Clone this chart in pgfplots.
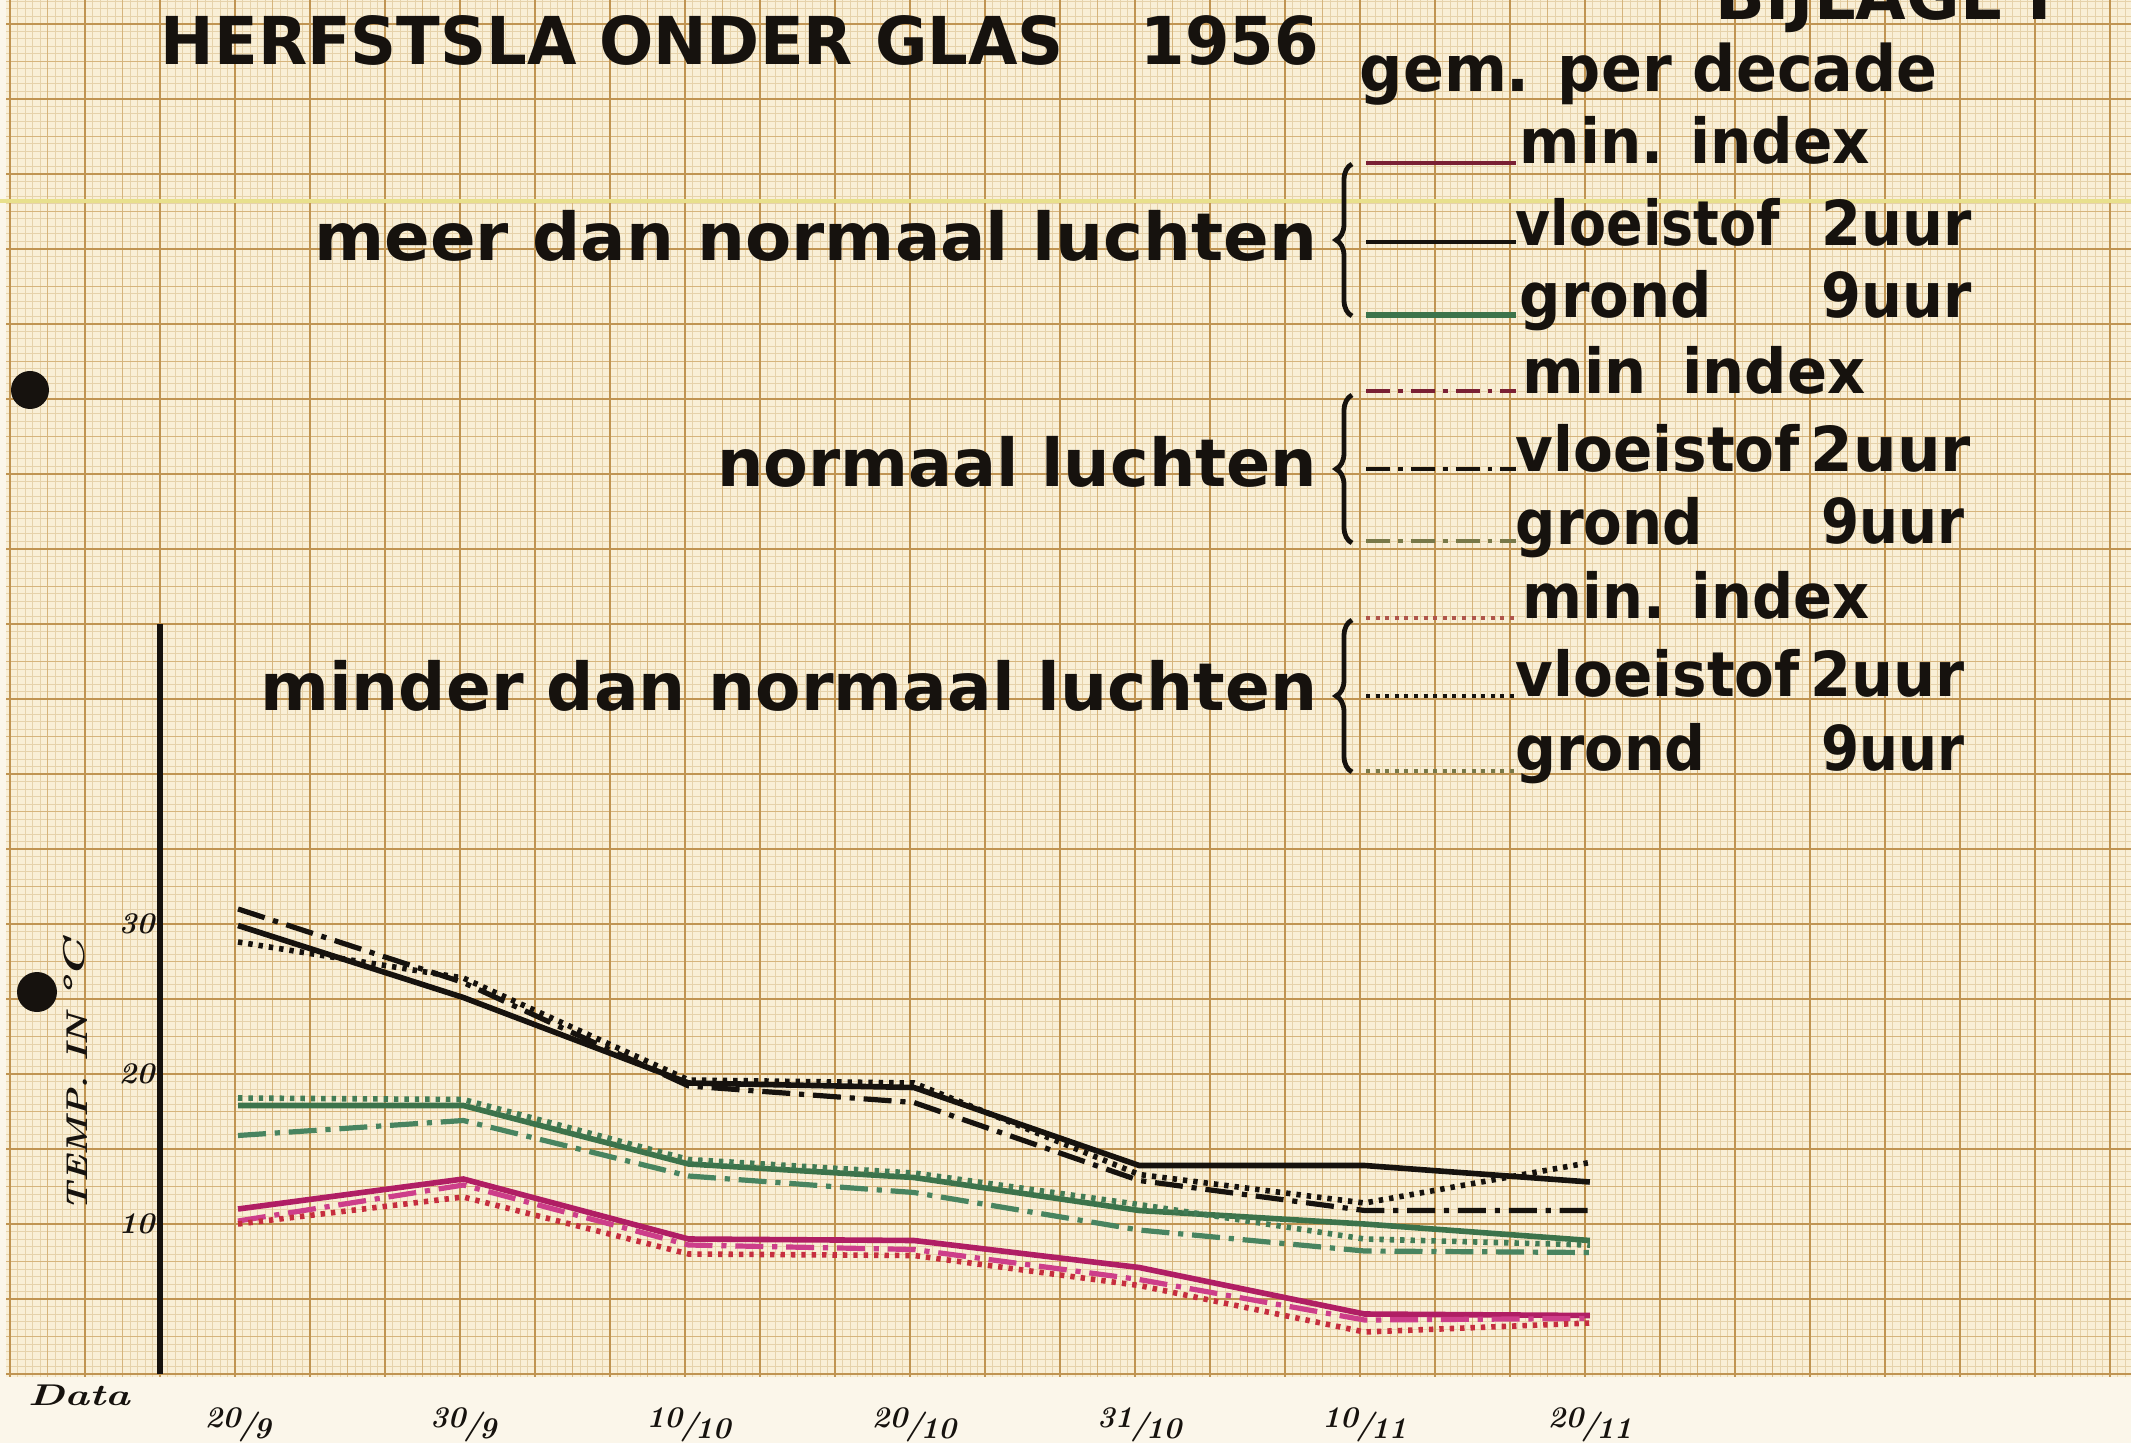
\documentclass[border=0pt]{standalone}
\usepackage{graphicx}
\usepackage{fontspec}
\usepackage{pgfplots}
\pgfplotsset{compat=1.18}
\usetikzlibrary{decorations.pathreplacing}
\newfontfamily\lsans{DejaVu Sans}
\definecolor{paper}{RGB}{249,239,214}
\definecolor{strip}{RGB}{251,246,234}
\definecolor{gfine}{RGB}{230,210,170}
\definecolor{gmid}{RGB}{214,180,124}
\definecolor{gmaj}{RGB}{192,148,82}
\definecolor{ink}{RGB}{22,18,14}
\definecolor{magS}{RGB}{176,30,100}
\definecolor{magDD}{RGB}{205,62,138}
\definecolor{redDot}{RGB}{198,45,62}
\definecolor{grnS}{RGB}{60,115,75}
\definecolor{grnDD}{RGB}{72,132,96}
\definecolor{grnDot}{RGB}{66,124,86}
\definecolor{maroon}{RGB}{122,32,52}
\definecolor{olive}{RGB}{120,120,72}
\newcommand\fw[2]{\resizebox{#1}{\height}{#2}}
\newcommand\hwf{\bfseries\itshape\fontsize{7.5}{8}\selectfont}
\newcommand\lgd{\lsans\bfseries\fontsize{15.5}{16}\selectfont}
\newcommand\grl{\lsans\bfseries\fontsize{16.5}{17}\selectfont}
\newcommand\dfr[2]{\raisebox{0.5ex}{#1}\kern-0.05em/\kern-0.1em\raisebox{-0.3ex}{#2}}
\tikzset{
  sol/.style={line width=1.4pt},
  dd/.style={line width=1.3pt, dash pattern=on 7pt off 2.2pt on 1.3pt off 2.2pt},
  dot/.style={line width=1.4pt, dash pattern=on 1.1pt off 1.5pt},
}
\begin{document}
\begin{tikzpicture}
\useasboundingbox (0,0) rectangle (532.75pt,-360.75pt);
\begin{scope}[x=0.25pt,y=-0.25pt]
\fill[strip] (0,0) rectangle (2131,1443);
\fill[paper] (6,0) rectangle (2131,1377);
\foreach \i in {-20,...,263} \draw[gfine,line width=0.25pt] ({160+7.5*\i},0) -- ({160+7.5*\i},1377);
\foreach \j in {0,...,183} \draw[gfine,line width=0.25pt] (6,{1374-7.5*\j}) -- (2131,{1374-7.5*\j});
\foreach \i in {-4,...,52} \draw[gmid,line width=0.45pt] ({160+37.5*\i},0) -- ({160+37.5*\i},1377);
\foreach \j in {0,...,36} \draw[gmid,line width=0.45pt] (6,{1374-37.5*\j}) -- (2131,{1374-37.5*\j});
\foreach \i in {-2,...,26} \draw[gmaj,line width=0.7pt] ({160+75*\i},0) -- ({160+75*\i},1377);
\foreach \j in {0,...,18} \draw[gmaj,line width=0.7pt] (6,{1374-75*\j}) -- (2131,{1374-75*\j});
\draw[color={rgb,255:red,232;green,224;blue,140}, line width=1pt] (0,201) -- (2131,201);
\fill[ink] (30,390) circle (19);
\fill[ink] (37,992) circle (20);
\end{scope}

\begin{axis}[
  at={(40pt,-343.5pt)}, anchor=south west,
  scale only axis, width=385pt, height=187.5pt,
  xmin=-0.3462, xmax=6.489, ymin=0, ymax=50,
  axis x line*=bottom, axis y line*=left,
  x axis line style={draw=none},
  y axis line style={-, line width=1.6pt, color=ink},
  major tick length=0pt, tick style={draw=none},
  ytick={10,20,30},
  yticklabels={{\hwf 10},{\hwf 20},{\hwf 30}},
  yticklabel style={anchor=east, inner sep=1.2pt, text=ink},
  xtick={0,1,2,3,4,5,6},
  xticklabels={{\hwf\dfr{20}{9}},{\hwf\dfr{30}{9}},{\hwf\dfr{10}{10}},{\hwf\dfr{20}{10}},{\hwf\dfr{31}{10}},{\hwf\dfr{10}{11}},{\hwf\dfr{20}{11}}},
  xticklabel style={anchor=north, yshift=-5pt, text=ink},
  clip=false,
]
% meer dan normaal luchten (solid)
\addplot[sol, magS] coordinates {(0,11.0) (1,13.0) (2,9.0) (3,8.9) (4,7.1) (5,4.0) (6,3.9)};
\addplot[sol, ink] coordinates {(0,29.9) (1,25.1) (2,19.4) (3,19.1) (4,13.9) (5,13.9) (6,12.8)};
\addplot[sol, grnS] coordinates {(0,17.9) (1,17.9) (2,14.0) (3,13.1) (4,10.9) (5,10.0) (6,8.9)};
% normaal luchten (dash-dot)
\addplot[dd, magDD] coordinates {(0,10.2) (1,12.6) (2,8.6) (3,8.3) (4,6.3) (5,3.6) (6,3.7)};
\addplot[dd, ink] coordinates {(0,31.0) (1,26.1) (2,19.2) (3,18.1) (4,12.9) (5,10.9) (6,10.9)};
\addplot[dd, grnDD] coordinates {(0,15.9) (1,16.9) (2,13.2) (3,12.1) (4,9.6) (5,8.2) (6,8.1)};
% minder dan normaal luchten (dotted)
\addplot[dot, redDot] coordinates {(0,10.0) (1,11.8) (2,8.0) (3,7.9) (4,5.9) (5,2.8) (6,3.4)};
\addplot[dot, ink] coordinates {(0,28.8) (1,26.4) (2,19.6) (3,19.4) (4,13.3) (5,11.4) (6,14.1)};
\addplot[dot, grnDot] coordinates {(0,18.4) (1,18.3) (2,14.3) (3,13.4) (4,11.3) (5,9.0) (6,8.6)};
\end{axis}

\begin{scope}[x=0.25pt,y=-0.25pt, every node/.style={inner sep=0pt, text=ink}]
% title
\node[anchor=base west] at (160,65) {\fw{289.5pt}{\lsans\bfseries\fontsize{16.5}{17}\selectfont HERFSTSLA ONDER GLAS\hspace{1.2em}1956}};
\node[anchor=base west] at (1715,20) {\fw{84pt}{\lsans\bfseries\fontsize{16.5}{17}\selectfont BIJLAGE I}};
\node[anchor=base west] at (1359,92) {\fw{144.5pt}{\lsans\bfseries\fontsize{16}{17}\selectfont gem. per decade}};
% group labels
\node[anchor=base east] at (1318,261) {\fw{250.75pt}{\grl meer dan normaal luchten}};
\node[anchor=base east] at (1318,487) {\fw{150pt}{\grl normaal luchten}};
\node[anchor=base east] at (1318,711) {\fw{264.25pt}{\grl minder dan normaal luchten}};
% braces
\draw[ink, line width=1.2pt, decorate, decoration={brace, amplitude=4pt}] (1352,316) -- (1352,164);
\draw[ink, line width=1.2pt, decorate, decoration={brace, amplitude=4pt}] (1352,543) -- (1352,395);
\draw[ink, line width=1.2pt, decorate, decoration={brace, amplitude=4pt}] (1352,772) -- (1352,620);
% legend samples
\draw[maroon, line width=1.1pt] (1366,163) -- (1516,163);
\draw[ink, line width=1.1pt] (1366,242) -- (1516,242);
\draw[grnS, line width=1.3pt] (1366,315) -- (1516,315);
\draw[maroon, line width=1pt, dash pattern=on 6pt off 2pt on 1.2pt off 2pt] (1366,391) -- (1516,391);
\draw[ink, line width=1pt, dash pattern=on 6pt off 2pt on 1.2pt off 2pt] (1366,469) -- (1516,469);
\draw[olive, line width=1.2pt, dash pattern=on 6pt off 2pt on 1.2pt off 2pt] (1366,541) -- (1516,541);
\draw[color={rgb,255:red,175;green,85;blue,75}, line width=1pt, dash pattern=on 1pt off 1.4pt] (1366,618) -- (1516,618);
\draw[ink, line width=1pt, dash pattern=on 1pt off 1.4pt] (1366,696) -- (1516,696);
\draw[olive, line width=1.2pt, dash pattern=on 1pt off 1.4pt] (1366,771) -- (1516,771);
% legend texts group 1
\node[anchor=base west] at (1519,164) {\fw{87.5pt}{\lgd min. index}};
\node[anchor=base west] at (1515,246) {\fw{66pt}{\lgd vloeistof}};
\node[anchor=base west] at (1821,246) {\fw{37.5pt}{\lgd 2uur}};
\node[anchor=base west] at (1519,318) {\fw{48pt}{\lgd grond}};
\node[anchor=base west] at (1821,318) {\fw{37.5pt}{\lgd 9uur}};
% group 2
\node[anchor=base west] at (1522,394) {\fw{85.7pt}{\lgd min\hspace{0.6em}index}};
\node[anchor=base west] at (1515,472) {\fw{71pt}{\lgd vloeistof}};
\node[anchor=base west] at (1810,472) {\fw{40pt}{\lgd 2uur}};
\node[anchor=base west] at (1515,544) {\fw{46.75pt}{\lgd grond}};
\node[anchor=base west] at (1821,544) {\fw{35.75pt}{\lgd 9uur}};
% group 3
\node[anchor=base west] at (1522,618) {\fw{86.75pt}{\lgd min. index}};
\node[anchor=base west] at (1515,697) {\fw{71pt}{\lgd vloeistof}};
\node[anchor=base west] at (1810,697) {\fw{38.5pt}{\lgd 2uur}};
\node[anchor=base west] at (1515,771) {\fw{47.5pt}{\lgd grond}};
\node[anchor=base west] at (1821,771) {\fw{35.75pt}{\lgd 9uur}};
% axis titles
\node[rotate=90, anchor=base west] at (88,1212) {\fw{49.5pt}{\hwf TEMP. IN}};
\node[rotate=90, anchor=base west] at (84,1000) {\fw{15pt}{\hwf °C}};
\node[anchor=base west] at (27,1405) {\fw{25.5pt}{\hwf Data}};
\end{scope}
\end{tikzpicture}
\end{document}
